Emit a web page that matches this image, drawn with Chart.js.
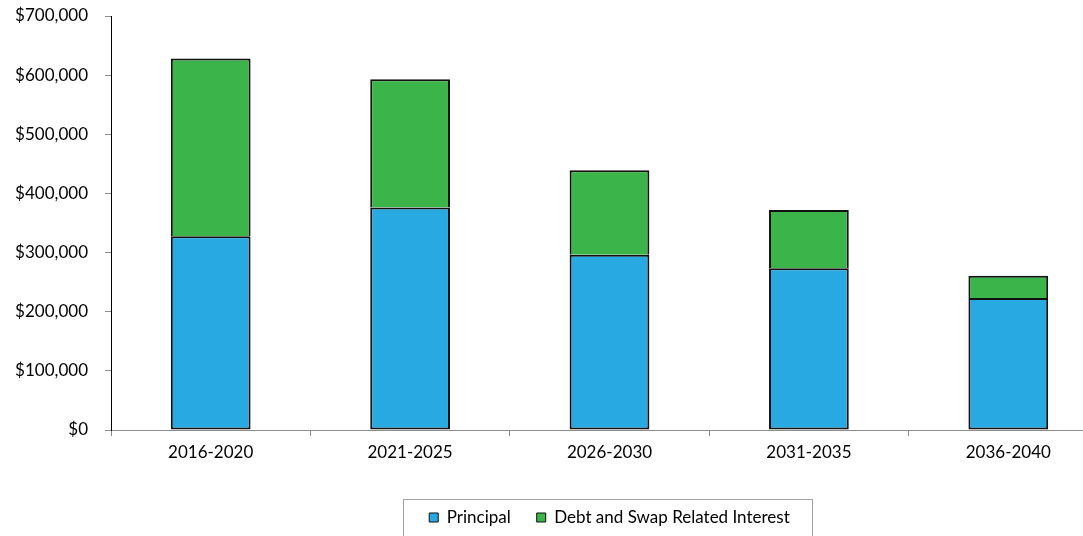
<!DOCTYPE html>
<html>
<head>
<meta charset="utf-8">
<script src="https://cdn.jsdelivr.net/npm/chart.js@4.4.0/dist/chart.umd.min.js"></script>
<style>
  html, body { margin: 0; padding: 0; background: #fff; overflow: hidden; }
  #wrap { width: 1110px; height: 536px; }
</style>
</head>
<body>
<div id="wrap"><canvas id="chart" width="1110" height="536"></canvas></div>
<script>
// --- DATA ---
const periods = ['2016-2020', '2021-2025', '2026-2030', '2031-2035', '2036-2040'];
const principal = [327500, 376000, 296500, 273500, 223000];
const interest = [300500, 217000, 142500, 98500, 38000];
const yMin = 0;
const yMax = 700000;
const yStep = 100000;

const FONT = { family: 'Lato', size: 17 };

// border round the legend, like the spreadsheet one
const legendFrame = {
    id: 'legendFrame',
    afterDraw(chart) {
        const lg = chart.legend;
        if (!lg || !lg.legendHitBoxes.length) return;
        const left = Math.min(...lg.legendHitBoxes.map(b => b.left));
        const right = Math.max(...lg.legendHitBoxes.map(b => b.left + b.width));
        const ctx = chart.ctx;
        ctx.save();
        ctx.strokeStyle = '#a0a0a0';
        ctx.lineWidth = 1;
        ctx.strokeRect(Math.round(left - 26) + 0.5, 499.5, Math.round(right - left + 48), 60);
        ctx.restore();
    }
};

new Chart(document.getElementById('chart').getContext('2d'), {
    type: 'bar',
    data: {
        labels: periods,
        datasets: [{
            label: 'Principal',
            data: principal,
            backgroundColor: '#29a9e1',
            borderColor: '#111',
            borderWidth: 2,
            borderSkipped: false
        }, {
            label: 'Debt and Swap Related Interest',
            data: interest,
            backgroundColor: '#3bb44a',
            borderColor: '#111',
            borderWidth: 2,
            borderSkipped: 'start' // blue top edge already draws the split line
        }]
    },
    options: {
        responsive: false,
        animation: false,
        layout: { padding: { top: 16, right: 2, bottom: 0, left: 0 } },
        datasets: { bar: { categoryPercentage: 1, barPercentage: 0.4 } },
        scales: {
            x: {
                stacked: true,
                grid: { offset: true, drawOnChartArea: false, tickLength: 6, tickColor: '#8c8c8c' },
                border: { color: '#8c8c8c', width: 1 },
                ticks: { color: '#000', font: FONT, padding: 6 },
                afterFit: s => { s.height = 53; }
            },
            y: {
                stacked: true,
                min: yMin,
                max: yMax,
                grid: { drawOnChartArea: false, tickLength: 6, tickColor: '#8c8c8c' },
                border: { color: '#000', width: 1 },
                ticks: {
                    stepSize: yStep,
                    color: '#000',
                    font: FONT,
                    padding: 17,
                    callback: v => '$' + v.toLocaleString('en-US')
                },
                afterFit: s => {
                    s.width = 111;
                    s.paddingTop = 0;     // tick padding would otherwise push the top down
                    s.paddingBottom = 0;
                }
            }
        },
        plugins: {
            tooltip: { enabled: false },
            legend: {
                position: 'bottom',
                fullSize: false,
                labels: {
                    color: '#000',
                    font: FONT,
                    boxWidth: 9,
                    boxHeight: 9,
                    padding: 26,
                    generateLabels: chart => Chart.defaults.plugins.legend.labels.generateLabels(chart)
                        .map(l => Object.assign(l, { lineWidth: 1 }))
                }
            }
        }
    },
    plugins: [legendFrame]
});
</script>
</body>
</html>
